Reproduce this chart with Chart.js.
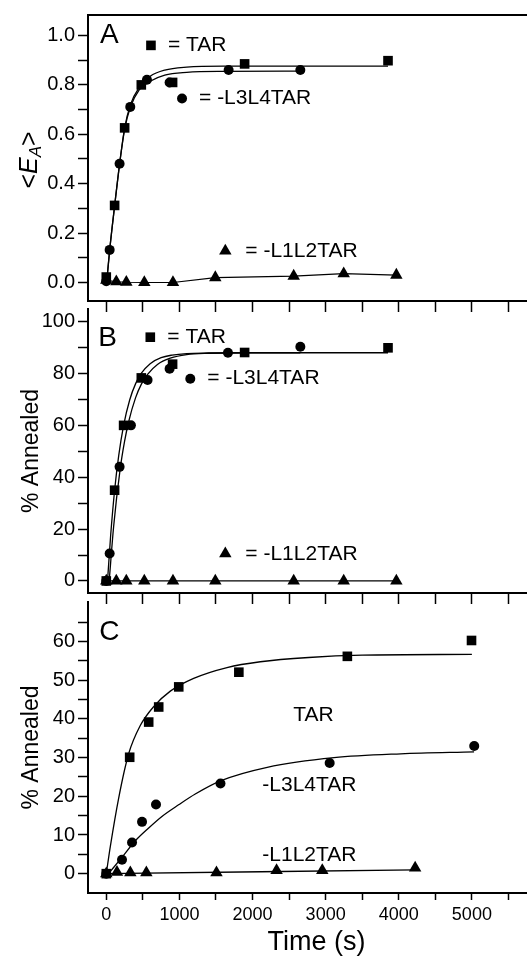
<!DOCTYPE html>
<html lang="en">
<head>
    <meta charset="UTF-8">
    <title>Annealing kinetics</title>
    <script src="https://cdn.jsdelivr.net/npm/chart.js"></script>
    <style>
        html, body {
            margin: 0;
            padding: 0;
            background: #fff;
            overflow: hidden;
            width: 527px;
            height: 959px;
        }
        canvas {
            position: absolute;
            left: 0;
        }
        #panelA { top: 0; }
        #panelB { top: 294px; }
        #panelC { top: 587px; }
    </style>
</head>
<body>
    <canvas id="panelA" width="560" height="316"></canvas>
    <canvas id="panelB" width="560" height="314"></canvas>
    <canvas id="panelC" width="560" height="372"></canvas>

    <script>
        // time axis (s)
        const xTickMarks = [0, 500, 1000, 1500, 2000, 2500, 3000, 3500, 4000, 4500, 5000, 5500, 6000];
        const xTickLabels = [0, 1000, 2000, 3000, 4000, 5000];

        // panel A: <E_A>
        const aTicks = [0, 0.1, 0.2, 0.3, 0.4, 0.5, 0.6, 0.7, 0.8, 0.9, 1.0];
        const aLabels = [0, 0.2, 0.4, 0.6, 0.8, 1.0];
        const aTarTime = [0, 114, 251, 479, 907, 1892, 3853];
        const aTarE = [0.022, 0.312, 0.626, 0.80, 0.81, 0.885, 0.898];
        const aL3L4Time = [0, 46, 182, 328, 556, 866, 1673, 2654];
        const aL3L4E = [0.005, 0.132, 0.481, 0.711, 0.821, 0.81, 0.86, 0.86];
        const aL1L2Time = [0, 137, 274, 520, 912, 1491, 2563, 3247, 3967];
        const aL1L2E = [0.009, 0.003, 0.001, 0.0, 0.0, 0.02, 0.026, 0.036, 0.03];
        const aTarFitTime = [5, 46, 114, 182, 251, 330, 450, 600, 800, 1100, 1600, 2500, 3853];
        const aTarFitE = [0, 0.13, 0.31, 0.48, 0.625, 0.72, 0.79, 0.835, 0.86, 0.872, 0.876, 0.876, 0.876];
        const aL3L4FitTime = [5, 46, 114, 182, 251, 330, 450, 600, 800, 1100, 1600, 2654];
        const aL3L4FitE = [0, 0.13, 0.31, 0.48, 0.62, 0.71, 0.78, 0.815, 0.84, 0.851, 0.855, 0.856];

        // panel B: % annealed
        const bTicks = [0, 10, 20, 30, 40, 50, 60, 70, 80, 90, 100];
        const bLabels = [0, 20, 40, 60, 80, 100];
        const bTarTime = [0, 114, 237, 479, 907, 1892, 3853];
        const bTarPct = [0, 35.0, 60.0, 78.3, 83.6, 88.1, 89.9];
        const bL3L4Time = [0, 46, 182, 337, 565, 866, 1664, 2654];
        const bL3L4Pct = [0, 10.6, 44.0, 60.0, 77.5, 81.8, 88.0, 90.3];
        const bL1L2Time = [0, 137, 274, 520, 912, 1491, 2563, 3247, 3967];
        const bL1L2Pct = [0, 0, 0, 0, 0, 0, 0, 0, 0];
        const bTarFitTime = [17, 60, 114, 170, 237, 320, 400, 480, 600, 750, 900, 1100, 1400, 2000, 3853];
        const bTarFitPct = [0, 17.6, 35.0, 48.3, 60.0, 69.8, 76.0, 80.1, 83.8, 86.1, 87.1, 87.7, 87.9, 88.0, 88.0];
        const bL3L4FitTime = [40, 100, 190, 250, 305, 400, 480, 565, 700, 875, 1100, 1400, 2000, 2654];
        const bL3L4FitPct = [0, 20.8, 43.2, 53.8, 61.3, 70.6, 75.9, 79.7, 83.5, 85.9, 87.3, 87.8, 88.0, 88.0];

        // panel C: % annealed
        const cTicks = [0, 5, 10, 15, 20, 25, 30, 35, 40, 45, 50, 55, 60, 65];
        const cLabels = [0, 10, 20, 30, 40, 50, 60];
        const cTarTime = [0, 320, 580, 717, 991, 1813, 3297, 4995];
        const cTarPct = [0, 30.1, 39.2, 43.1, 48.3, 52.1, 56.2, 60.3];
        const cL3L4Time = [0, 215, 352, 489, 680, 1562, 3055, 5032];
        const cL3L4Pct = [0, 3.6, 8.05, 13.4, 17.9, 23.3, 28.6, 33.0];
        const cL1L2Time = [0, 146, 329, 548, 1507, 2329, 2954, 4224];
        const cL1L2Pct = [0, 0.4, 0.25, 0.25, 0.25, 0.85, 0.85, 1.5];
        const cTarFitTime = [0, 55, 169, 306, 465, 648, 876, 1195, 1651, 2107, 2768, 3500, 5000];
        const cTarFitPct = [0, 7.0, 19.5, 31.0, 38.3, 43.2, 47.2, 50.5, 53.3, 54.8, 55.9, 56.5, 56.7];
        const cL3L4FitTime = [30, 214, 397, 579, 761, 989, 1217, 1562, 2201, 3114, 4027, 5030];
        const cL3L4FitPct = [0, 4.2, 8.5, 11.8, 14.8, 17.8, 20.6, 24.0, 27.5, 30.0, 31.0, 31.5];
        const cL1L2FitTime = [0, 4224];
        const cL1L2FitPct = [0, 1.0];

        const FONT = "'Liberation Sans', Arial, sans-serif";
        const markerRadius = { rect: 6.8, circle: 5, triangle: 7.2 };

        function pts(xs, ys) {
            return xs.map((t, i) => ({ x: t, y: ys[i] }));
        }

        function markers(xs, ys, style, joined) {
            return {
                data: pts(xs, ys),
                pointStyle: style,
                pointRadius: markerRadius[style],
                pointBackgroundColor: '#000',
                pointBorderWidth: 0,
                showLine: !!joined,
                borderColor: '#000',
                borderWidth: 1.2,
                tension: 0,
                order: 1
            };
        }

        function fit(xs, ys) {
            return {
                data: pts(xs, ys),
                showLine: true,
                pointRadius: 0,
                borderColor: '#000',
                borderWidth: 1.3,
                cubicInterpolationMode: 'monotone',
                order: 2
            };
        }

        // in-plot labels: panel letter, legend markers, series names
        function notes(items) {
            return {
                id: 'notes',
                afterDatasetsDraw(chart) {
                    const { ctx, scales } = chart;
                    ctx.save();
                    ctx.fillStyle = '#000';
                    ctx.textBaseline = 'middle';
                    items.forEach(item => {
                        const px = scales.x.getPixelForValue(item.x);
                        const py = scales.y.getPixelForValue(item.y);
                        let gap = 0;
                        if (item.marker) {
                            Chart.helpers.drawPoint(ctx, {
                                pointStyle: item.marker,
                                radius: markerRadius[item.marker],
                                rotation: 0,
                                borderWidth: 0
                            }, px, py);
                            gap = item.marker === 'triangle' ? 20 : 17;
                        }
                        ctx.font = item.size + 'px ' + FONT;
                        ctx.fillText(item.text, px + gap, py);
                    });
                    ctx.restore();
                }
            };
        }

        // <E_A> with italic E and subscript A
        const eaTitle = {
            id: 'eaTitle',
            afterDraw(chart) {
                const { ctx, chartArea } = chart;
                const parts = [
                    { t: '<', font: '25px ' + FONT, dy: 0 },
                    { t: 'E', font: 'italic 25px ' + FONT, dy: 0 },
                    { t: 'A', font: 'italic 17px ' + FONT, dy: 6 },
                    { t: '>', font: '25px ' + FONT, dy: 0 }
                ];
                ctx.save();
                ctx.translate(30, (chartArea.top + chartArea.bottom) / 2 + 2);
                ctx.rotate(-Math.PI / 2);
                ctx.fillStyle = '#000';
                ctx.textBaseline = 'middle';
                let total = 0;
                parts.forEach(p => { ctx.font = p.font; p.w = ctx.measureText(p.t).width; total += p.w; });
                let x = -total / 2;
                parts.forEach(p => {
                    ctx.font = p.font;
                    ctx.fillText(p.t, x, p.dy);
                    x += p.w;
                });
                ctx.restore();
            }
        };

        function xScale(showLabels, tickLength, height) {
            return {
                type: 'linear',
                position: 'bottom',
                min: -250,
                max: 6000,
                afterBuildTicks: s => { s.ticks = xTickMarks.map(v => ({ value: v })); },
                afterFit: s => { s.height = height; },
                ticks: {
                    display: showLabels,
                    autoSkip: false,
                    maxRotation: 0,
                    padding: 4,
                    color: '#000',
                    font: { family: FONT, size: 18 },
                    callback: v => xTickLabels.includes(v) ? String(v) : ''
                },
                grid: {
                    drawOnChartArea: false,
                    tickLength: tickLength,
                    tickWidth: 1.5,
                    tickColor: '#000'
                },
                border: { color: '#000', width: 2 },
                title: {
                    display: showLabels,
                    text: 'Time (s)',
                    color: '#000',
                    font: { family: FONT, size: 27 },
                    padding: 0
                }
            };
        }

        function yScale(min, max, ticks, labels, digits, title) {
            return {
                type: 'linear',
                position: 'left',
                min: min,
                max: max,
                afterBuildTicks: s => { s.ticks = ticks.map(v => ({ value: v })); },
                afterFit: s => { s.width = 88; },
                ticks: {
                    autoSkip: false,
                    padding: 3,
                    color: '#000',
                    font: { family: FONT, size: 20 },
                    callback: v => labels.includes(v) ? v.toFixed(digits) : ''
                },
                grid: {
                    drawOnChartArea: false,
                    tickLength: 10,
                    tickWidth: 1.5,
                    tickColor: '#000'
                },
                border: { color: '#000', width: 2 },
                title: {
                    display: !!title,
                    text: title || '',
                    color: '#000',
                    font: { family: FONT, size: 23 },
                    padding: { top: 18, bottom: 0 }
                }
            };
        }

        function baseOptions(padTop, scales) {
            return {
                responsive: false,
                animation: false,
                events: [],
                layout: { padding: { top: padTop, right: 15, bottom: 0, left: 0 } },
                plugins: { legend: { display: false }, tooltip: { enabled: false } },
                scales: scales
            };
        }

        new Chart(document.getElementById('panelA'), {
            type: 'scatter',
            data: {
                datasets: [
                    fit(aTarFitTime, aTarFitE),
                    fit(aL3L4FitTime, aL3L4FitE),
                    markers(aTarTime, aTarE, 'rect'),
                    markers(aL3L4Time, aL3L4E, 'circle'),
                    markers(aL1L2Time, aL1L2E, 'triangle', true)
                ]
            },
            options: baseOptions(11, {
                x: xScale(false, 11, 12),
                xTop: {
                    type: 'linear',
                    position: 'top',
                    min: -250,
                    max: 6000,
                    afterFit: s => { s.height = 0; },
                    ticks: { display: false },
                    grid: { display: false, drawTicks: false },
                    border: { color: '#000', width: 2 }
                },
                y: yScale(-0.075, 1.083, aTicks, aLabels, 1, null)
            }),
            plugins: [eaTitle, notes([
                { text: 'A', x: -85, y: 1.0, size: 28 },
                { text: '= TAR', x: 611, y: 0.96, size: 21, marker: 'rect' },
                { text: '= -L3L4TAR', x: 1036, y: 0.745, size: 21, marker: 'circle' },
                { text: '= -L1L2TAR', x: 1628, y: 0.128, size: 21, marker: 'triangle' }
            ])]
        });

        new Chart(document.getElementById('panelB'), {
            type: 'scatter',
            data: {
                datasets: [
                    fit(bTarFitTime, bTarFitPct),
                    fit(bL3L4FitTime, bL3L4FitPct),
                    markers(bTarTime, bTarPct, 'rect'),
                    markers(bL3L4Time, bL3L4Pct, 'circle'),
                    markers(bL1L2Time, bL1L2Pct, 'triangle', true)
                ]
            },
            options: baseOptions(10, {
                x: xScale(false, 11, 11),
                y: yScale(-4.64, 104.87, bTicks, bLabels, 0, '% Annealed')
            }),
            plugins: [notes([
                { text: 'B', x: -110, y: 93.5, size: 28 },
                { text: '= TAR', x: 602, y: 94, size: 21, marker: 'rect' },
                { text: '= -L3L4TAR', x: 1149, y: 78, size: 21, marker: 'circle' },
                { text: '= -L1L2TAR', x: 1628, y: 10.5, size: 21, marker: 'triangle' }
            ])]
        });

        new Chart(document.getElementById('panelC'), {
            type: 'scatter',
            data: {
                datasets: [
                    fit(cTarFitTime, cTarFitPct),
                    fit(cL3L4FitTime, cL3L4FitPct),
                    fit(cL1L2FitTime, cL1L2FitPct),
                    markers(cTarTime, cTarPct, 'rect'),
                    markers(cL3L4Time, cL3L4Pct, 'circle'),
                    markers(cL1L2Time, cL1L2Pct, 'triangle')
                ]
            },
            options: baseOptions(10, {
                x: xScale(true, 7, 66),
                y: yScale(-5, 70.25, cTicks, cLabels, 0, '% Annealed')
            }),
            plugins: [notes([
                { text: 'C', x: -96, y: 62.5, size: 28 },
                { text: 'TAR', x: 2558, y: 41, size: 21 },
                { text: '-L3L4TAR', x: 2134, y: 23, size: 21 },
                { text: '-L1L2TAR', x: 2134, y: 4.9, size: 21 }
            ])]
        });
    </script>
</body>
</html>
